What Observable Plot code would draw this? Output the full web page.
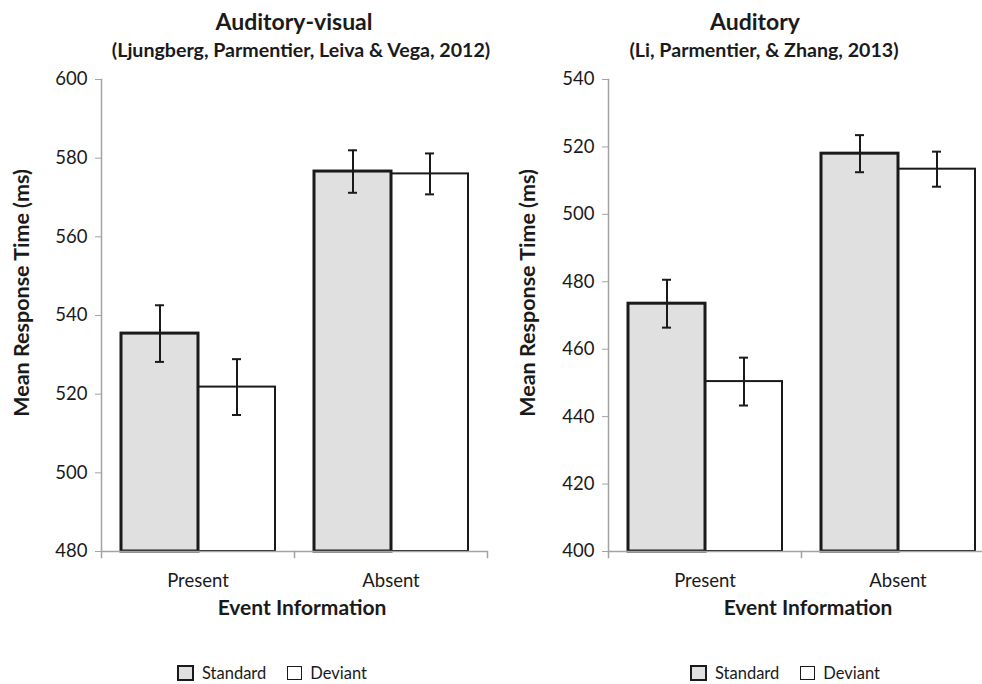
<!DOCTYPE html>
<html>
<head>
<meta charset="utf-8">
<script src="https://cdn.jsdelivr.net/npm/d3@7"></script>
<script src="https://cdn.jsdelivr.net/npm/@observablehq/plot@0.6"></script>
<style>
  html, body { margin: 0; padding: 0; background: #fff; overflow: hidden; }
  #page { position: relative; width: 982px; height: 684px; font-family: Lato, "Open Sans", sans-serif; color: #1a1a1a; }
  .abs { position: absolute; white-space: nowrap; line-height: 1; }
  .title { font-weight: bold; font-size: 23px; transform: translateX(-50%); }
  .subtitle { font-weight: bold; font-size: 19.6px; transform: translateX(-50%); }
  .ylab { font-weight: bold; font-size: 21.5px; transform: translate(-50%, -50%) rotate(-90deg); }
  .xlab { font-weight: bold; font-size: 21px; transform: translateX(-50%); }
  .legend { display: flex; align-items: center; font-size: 16.5px; }
  .sw { display: inline-block; width: 13px; height: 12px; box-sizing: content-box; margin-right: 8px; }
  .sw.std { background: #e0e0e0; border: 2px solid #1a1a1a; }
  .sw.dev { background: #fff; border: 1.5px solid #1a1a1a; }
  .gap { width: 21px; }
  svg { position: absolute; }
</style>
</head>
<body>
<div id="page"></div>
<script>
// ---- data ----
const events = ["Present", "Absent"];
const conditions = ["Standard", "Deviant"];

// Auditory-visual (Ljungberg, Parmentier, Leiva & Vega, 2012)
const avTicks = [480, 500, 520, 540, 560, 580, 600];
const avStandardMean = [535.4, 576.6];
const avDeviantMean = [521.8, 576.0];
const avStandardErr = [7.2, 5.4];
const avDeviantErr = [7.1, 5.2];

// Auditory (Li, Parmentier, & Zhang, 2013)
const aTicks = [400, 420, 440, 460, 480, 500, 520, 540];
const aStandardMean = [473.5, 518.0];
const aDeviantMean = [450.4, 513.4];
const aStandardErr = [7.1, 5.5];
const aDeviantErr = [7.1, 5.2];

const titles = ["Auditory-visual", "Auditory"];
const subtitles = ["(Ljungberg, Parmentier, Leiva & Vega, 2012)", "(Li, Parmentier, & Zhang, 2013)"];
const yLabel = "Mean Response Time (ms)";
const xLabel = "Event Information";

// ---- build ----
const page = document.getElementById("page");
const GRAY = "#a3a3a3";
const INK = "#1a1a1a";

function rowsFor(stdMean, devMean, stdErr, devErr) {
  const rows = [];
  events.forEach((ev, i) => {
    rows.push({event: ev, condition: "Standard", mean: stdMean[i], lo: stdMean[i] - stdErr[i], hi: stdMean[i] + stdErr[i]});
    rows.push({event: ev, condition: "Deviant", mean: devMean[i], lo: devMean[i] - devErr[i], hi: devMean[i] + devErr[i]});
  });
  return rows;
}

function addDiv(cls, text, left, top) {
  const d = document.createElement("div");
  d.className = "abs " + cls;
  d.textContent = text;
  d.style.left = left + "px";
  d.style.top = top + "px";
  page.appendChild(d);
  return d;
}

function panel(cfg) {
  const H = 560, mt = 15, mb = 73;
  const innerH = H - mt - mb;
  const rows = rowsFor(cfg.stdMean, cfg.devMean, cfg.stdErr, cfg.devErr);
  const yMin = d3.min(cfg.ticks), yMax = d3.max(cfg.ticks);
  const std = rows.filter(d => d.condition === "Standard");
  const dev = rows.filter(d => d.condition === "Deviant");
  const chart = Plot.plot({
    width: cfg.width, height: H,
    marginTop: mt, marginBottom: mb, marginLeft: cfg.ml, marginRight: cfg.mr,
    style: {fontFamily: "Lato, 'Open Sans', sans-serif", fontSize: "18.5px", color: INK, background: "transparent", overflow: "visible"},
    fx: {domain: events, padding: 0, label: null},
    x: {domain: conditions, paddingInner: 0, paddingOuter: 0.25, axis: null},
    y: {domain: [yMin, yMax], label: null},
    marks: [
      Plot.barY(dev, {fx: "event", x: "condition", y1: yMin, y2: "mean", fill: "#ffffff", stroke: INK, strokeWidth: 2}),
      Plot.barY(std, {fx: "event", x: "condition", y1: yMin, y2: "mean", fill: "#e0e0e0", stroke: INK, strokeWidth: 3}),
      Plot.ruleX(rows, {fx: "event", x: "condition", y1: "lo", y2: "hi", stroke: INK, strokeWidth: 2}),
      Plot.tickY(rows, {fx: "event", x: "condition", y: "hi", insetLeft: 34, insetRight: 34, stroke: INK, strokeWidth: 2}),
      Plot.tickY(rows, {fx: "event", x: "condition", y: "lo", insetLeft: 34, insetRight: 34, stroke: INK, strokeWidth: 2}),
      Plot.ruleY([yMin], {stroke: GRAY, strokeWidth: 1.5}),
      Plot.frame({anchor: "left", facetAnchor: "left", stroke: GRAY, strokeWidth: 1.5}),
      Plot.frame({anchor: "left", insetTop: innerH, insetBottom: -6, stroke: GRAY, strokeWidth: 1.5}),
      Plot.frame({anchor: "right", facetAnchor: "right", insetTop: innerH, insetBottom: -6, stroke: GRAY, strokeWidth: 1.5}),
      Plot.axisY(cfg.ticks, {tickSize: 6, tickPadding: 8, stroke: GRAY, fill: INK, label: null, fontSize: 18.5}),
      Plot.axisFx({anchor: "bottom", tickSize: 0, tickPadding: 22, label: null, fill: INK, fontSize: 18.5})
    ]
  });
  chart.style.left = cfg.left + "px";
  chart.style.top = "64px";
  page.appendChild(chart);

  addDiv("title", cfg.title, cfg.titleX, 10);
  addDiv("subtitle", cfg.subtitle, cfg.subX, 40);
  addDiv("ylab", yLabel, cfg.ylabX, 293);
  addDiv("xlab", xLabel, cfg.xlabX, 596);

  const lg = document.createElement("div");
  lg.className = "abs legend";
  lg.style.left = cfg.legendX + "px";
  lg.style.top = "665px";
  conditions.forEach((c, i) => {
    if (i > 0) { const g = document.createElement("span"); g.className = "gap"; lg.appendChild(g); }
    const sw = document.createElement("span");
    sw.className = "sw " + (c === "Standard" ? "std" : "dev");
    lg.appendChild(sw);
    const t = document.createElement("span");
    t.textContent = c;
    lg.appendChild(t);
  });
  page.appendChild(lg);
}

panel({
  width: 491, left: 0, ml: 101, mr: 4, ticks: avTicks,
  stdMean: avStandardMean, devMean: avDeviantMean, stdErr: avStandardErr, devErr: avDeviantErr,
  title: titles[0], subtitle: subtitles[0], titleX: 294, subX: 301, ylabX: 22, xlabX: 302, legendX: 177
});
panel({
  width: 503, left: 491, ml: 117, mr: 0, ticks: aTicks,
  stdMean: aStandardMean, devMean: aDeviantMean, stdErr: aStandardErr, devErr: aDeviantErr,
  title: titles[1], subtitle: subtitles[1], titleX: 755, subX: 764, ylabX: 528, xlabX: 808, legendX: 690
});
</script>
</body>
</html>
